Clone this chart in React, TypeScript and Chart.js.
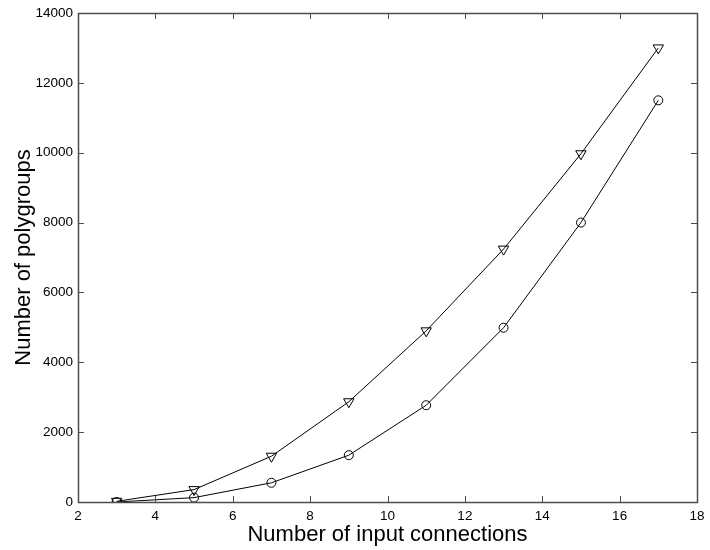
import React, { useEffect, useRef } from "react";
import { Chart, registerables } from "chart.js";

Chart.register(...registerables);

const connections = [3, 5, 7, 9, 11, 13, 15, 17];
const triangleSeries = [20, 355, 1310, 2870, 4900, 7240, 9970, 13000];
const circleSeries = [0, 125, 550, 1340, 2770, 4990, 8000, 11500];
const xTitle = "Number of input connections";
const yTitle = "Number of polygroups";

const FONT = "'Liberation Sans', Arial, Helvetica, sans-serif";

const boxTicks = {
  id: "boxTicks",
  afterDraw(chart: any) {
    const { ctx, chartArea, scales } = chart;
    const { left, right, top, bottom } = chartArea;
    const len = 6;
    ctx.save();
    ctx.strokeStyle = "#4d4d4d";
    ctx.lineWidth = 1;
    ctx.beginPath();
    const xs = scales.x;
    xs.ticks.forEach((t: any) => {
      const px = Math.round(xs.getPixelForValue(t.value)) + 0.5;
      ctx.moveTo(px, bottom);
      ctx.lineTo(px, bottom - len);
      ctx.moveTo(px, top);
      ctx.lineTo(px, top + len);
    });
    const ys = scales.y;
    ys.ticks.forEach((t: any) => {
      const py = Math.round(ys.getPixelForValue(t.value)) + 0.5;
      ctx.moveTo(left, py);
      ctx.lineTo(left + len, py);
      ctx.moveTo(right, py);
      ctx.lineTo(right - len, py);
    });
    ctx.stroke();
    ctx.lineWidth = 1.5;
    ctx.strokeRect(Math.round(left) + 0.5, Math.round(top) + 0.5, Math.round(right - left), Math.round(bottom - top));
    ctx.restore();
  },
};

export default function App() {
  const ref = useRef<HTMLCanvasElement | null>(null);
  useEffect(() => {
    if (!ref.current) return;
    const chart = new Chart(ref.current, {
      type: "line",
      data: {
        datasets: [
          {
            data: connections.map((x, i) => ({ x, y: triangleSeries[i] })),
            borderColor: "#000",
            borderWidth: 1,
            pointStyle: "triangle",
            rotation: 180,
            pointRadius: 6,
            pointBorderColor: "#000",
            pointBackgroundColor: "rgba(0,0,0,0)",
            pointBorderWidth: 1,
            tension: 0,
          },
          {
            data: connections.map((x, i) => ({ x, y: circleSeries[i] })),
            borderColor: "#000",
            borderWidth: 1,
            pointStyle: "circle",
            pointRadius: 4.5,
            pointBorderColor: "#000",
            pointBackgroundColor: "rgba(0,0,0,0)",
            pointBorderWidth: 1,
            tension: 0,
          },
        ],
      },
      options: {
        animation: false,
        responsive: false,
        maintainAspectRatio: false,
        layout: { padding: { top: 13, right: 13, left: 0, bottom: 0 } },
        plugins: { legend: { display: false }, tooltip: { enabled: false } },
        scales: {
          x: {
            type: "linear",
            min: 2,
            max: 18,
            grid: { display: false },
            border: { display: false },
            ticks: { stepSize: 2, color: "#000", font: { family: FONT, size: 13.5 }, padding: -2, maxRotation: 0, callback: (v: any) => String(v) },
            title: { display: true, text: xTitle, color: "#000", font: { family: FONT, size: 22 }, padding: { top: 0, bottom: 2 } },
            afterFit: (s: any) => { s.height = 48; },
          },
          y: {
            type: "linear",
            min: 0,
            max: 14000,
            grid: { display: false },
            border: { display: false },
            ticks: { stepSize: 2000, color: "#000", font: { family: FONT, size: 13.5 }, padding: -3, callback: (v: any) => String(v) },
            title: { display: true, text: yTitle, color: "#000", font: { family: FONT, size: 22 }, padding: { top: 11, bottom: 0 } },
            afterFit: (s: any) => { s.width = 78; },
          },
        },
      },
      plugins: [boxTicks],
    });
    return () => chart.destroy();
  }, []);
  return (
    <div style={{ position: "fixed", left: 0, top: 0, width: 710, height: 550, background: "#fff" }}>
      <canvas ref={ref} width={710} height={550} style={{ display: "block" }} />
    </div>
  );
}
